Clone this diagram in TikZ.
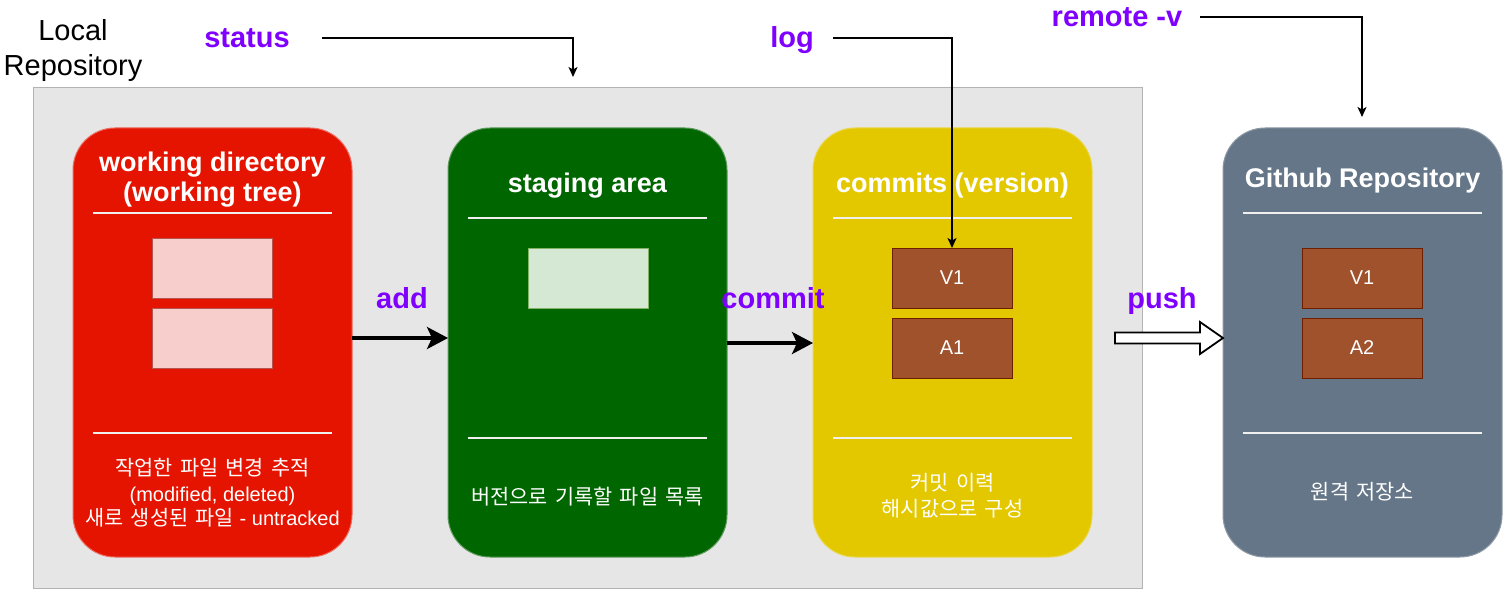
\documentclass[tikz,border=0pt]{standalone}
\usepackage{fontspec}
\setmainfont{Liberation Sans}
\newfontfamily\krfont{Noto Sans CJK KR}[Scale=1.04,WordSpace=1.6]
\usetikzlibrary{arrows.meta,calc}
\definecolor{cont}{HTML}{E6E6E6}
\definecolor{contline}{HTML}{B3B3B3}
\definecolor{wdred}{HTML}{E51400}
\definecolor{wdline}{HTML}{EE6A5E}
\definecolor{sagreen}{HTML}{006600}
\definecolor{saline}{HTML}{5E9A5E}
\definecolor{cmyellow}{HTML}{E3C800}
\definecolor{cmline}{HTML}{EAD64A}
\definecolor{ghslate}{HTML}{647687}
\definecolor{ghline}{HTML}{8E9AA6}
\definecolor{pinkfile}{HTML}{F8CECC}
\definecolor{pinkline}{HTML}{B85450}
\definecolor{greenfile}{HTML}{D5E8D4}
\definecolor{greenline}{HTML}{82B366}
\definecolor{brownfile}{HTML}{A0522D}
\definecolor{brownline}{HTML}{6D1F00}
\definecolor{cmdpurple}{HTML}{7F00FF}
\begin{document}
\begin{tikzpicture}[x=1pt,y=-1pt,
  bigbox/.style={rounded corners=42pt,minimum width=279pt,minimum height=429pt,inner sep=0pt,outer sep=0pt,line width=1pt},
  sepline/.style={draw=white!94!black,line width=2pt},
  filebox/.style={minimum width=120pt,minimum height=60pt,inner sep=0pt,outer sep=0pt,line width=1pt},
  verbox/.style={filebox,fill=brownfile,draw=brownline,text=white,font=\fontsize{20}{24}\selectfont},
  title/.style={text=white,font=\bfseries\fontsize{27}{32}\selectfont,anchor=base,inner sep=0pt},
  desc/.style={text=white,font=\fontsize{20}{25}\selectfont,anchor=base,inner sep=0pt},
  cmd/.style={text=cmdpurple,font=\bfseries\fontsize{29}{34}\selectfont,anchor=base,inner sep=0pt},
  thinarrow/.style={line width=1.3pt,-{Stealth[length=10pt,width=9pt,inset=2.5pt]}},
  thickarrow/.style={line width=3.5pt,-{Stealth[length=21pt,width=22pt,inset=5pt]}}]
\useasboundingbox (0,0) rectangle (1506,604);
\fill[white] (0,0) rectangle (1506,604);

% local repository container
\node[fill=cont,draw=contline,line width=1pt,minimum width=1109pt,minimum height=500pt,inner sep=0pt] (local) at (587.5,338) {};
\node[anchor=base,inner sep=0pt,font=\fontsize{29}{35}\selectfont] (loctitle1) at (73,41) {Local};
\node[anchor=base,inner sep=0pt,font=\fontsize{29}{35}\selectfont] (loctitle2) at (73,76) {Repository};

% working directory
\node[bigbox,fill=wdred,draw=wdline] (wd) at (212.5,342.5) {};
\draw[sepline] ($(wd.north west)+(20,85)$) -- ($(wd.north east)+(-20,85)$);
\draw[sepline] ($(wd.north west)+(20,305)$) -- ($(wd.north east)+(-20,305)$);
\node[title] (wdt1) at (212.5,171.5) {working directory};
\node[title] (wdt2) at (212.5,201.5) {(working tree)};
\node[filebox,fill=pinkfile,draw=pinkline] (wf1) at (212,268) {};
\node[filebox,fill=pinkfile,draw=pinkline] (wf2) at (212,338) {};
\node[desc] (wdd1) at (212.5,475) {\krfont 작업한 파일 변경 추적};
\node[desc] (wdd2) at (212.5,501) {(modified, deleted)};
\node[desc] (wdd3) at (212.5,525) {{\krfont 새로 생성된 파일} - untracked};

% staging area
\node[bigbox,fill=sagreen,draw=saline] (sa) at (587.5,342.5) {};
\draw[sepline] ($(sa.north west)+(20,90)$) -- ($(sa.north east)+(-20,90)$);
\draw[sepline] ($(sa.north west)+(20,310)$) -- ($(sa.north east)+(-20,310)$);
\node[title] (sat) at (587.5,193) {staging area};
\node[filebox,fill=greenfile,draw=greenline] (sf1) at (588,278) {};
\node[desc] (sad) at (587.5,504) {\krfont 버전으로 기록할 파일 목록};

% commits
\node[bigbox,fill=cmyellow,draw=cmline] (cm) at (952.5,342.5) {};
\draw[sepline] ($(cm.north west)+(20,90)$) -- ($(cm.north east)+(-20,90)$);
\draw[sepline] ($(cm.north west)+(20,310)$) -- ($(cm.north east)+(-20,310)$);
\node[title] (cmt) at (952.5,193) {commits (version)};
\node[verbox] (cv1) at (952,278) {V1};
\node[verbox] (ca1) at (952,348) {A1};
\node[desc] (cmd1) at (952.5,490) {\krfont 커밋 이력};
\node[desc] (cmd2) at (952.5,516) {\krfont 해시값으로 구성};

% github
\node[bigbox,fill=ghslate,draw=ghline] (gh) at (1362.5,342.5) {};
\draw[sepline] ($(gh.north west)+(20,85)$) -- ($(gh.north east)+(-20,85)$);
\draw[sepline] ($(gh.north west)+(20,305)$) -- ($(gh.north east)+(-20,305)$);
\node[title] (ght) at (1362.5,187) {Github Repository};
\node[verbox] (gv1) at (1362,278) {V1};
\node[verbox] (ga2) at (1362,348) {A2};
\node[desc] (ghd) at (1362.5,499) {\krfont 원격 저장소};

% command labels
\node[cmd] (status) at (247,48) {status};
\node[cmd] (log) at (792,48) {log};
\node[cmd] (remote) at (1117,27) {remote -v};
\node[cmd] (add) at (402,308) {add};
\node[cmd] (commit) at (773,308) {commit};
\node[cmd] (push) at (1162,308) {push};

% connectors
\coordinate (statusS) at (322,38);
\coordinate (statusT) at (573,77);
\draw[thinarrow] (statusS) -| (statusT);
\coordinate (logS) at (833,38);
\draw[thinarrow] (logS) -| (cv1.north);
\coordinate (remoteS) at (1200,17);
\coordinate (remoteT) at (1362,117);
\draw[thinarrow] (remoteS) -| (remoteT);

\draw[thickarrow] ([yshift=4.5pt]wd.east) -- ([yshift=4.5pt]sa.west);
\draw[thickarrow] ([yshift=-0.5pt]sa.east) -- ([yshift=-0.5pt]cm.west);

\coordinate (pushT) at ([yshift=4.5pt]gh.west);
\draw[line width=1.8pt,fill=white,line join=miter]
  ($(pushT)+(-108,-5.5)$) -- ($(pushT)+(-23,-5.5)$) -- ($(pushT)+(-23,-16)$) -- (pushT)
  -- ($(pushT)+(-23,16)$) -- ($(pushT)+(-23,5.5)$) -- ($(pushT)+(-108,5.5)$) -- cycle;
\end{tikzpicture}
\end{document}
